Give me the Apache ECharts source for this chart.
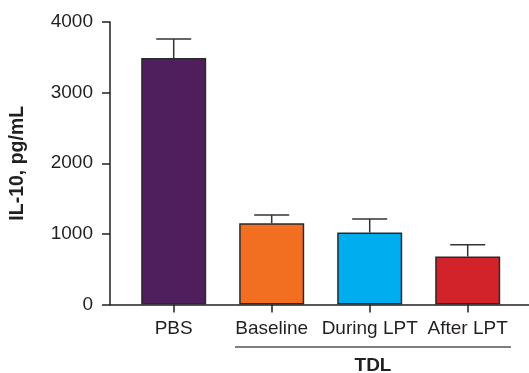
<!DOCTYPE html>
<html>
<head>
<meta charset="utf-8">
<script src="https://cdn.jsdelivr.net/npm/echarts@6/dist/echarts.min.js"></script>
<style>
  html, body { margin: 0; padding: 0; background: #fff; }
  #chart { width: 529px; height: 373px; }
</style>
</head>
<body>
<div id="chart"></div>
<script>
  // data
  const categories = ['PBS', 'Baseline', 'During LPT', 'After LPT']
  const means = [3490, 1150, 1020, 680]
  const errTops = [3760, 1268, 1210, 845]
  const barColors = ['#4e1f5c', '#f26f22', '#00aeef', '#d2232a']
  const yTicks = [0, 1000, 2000, 3000, 4000]

  const fontFam = 'Liberation Sans, Arial, sans-serif'
  const ink = '#231f20'

  const chart = echarts.init(document.getElementById('chart'))

  const errData = categories.map((c, i) => [i, means[i], errTops[i]])

  const option = {
    animation: false,
    grid: [
      // grid for the axis frame (y axis + full-width x line)
      { left: 108, right: 0, top: 22, height: 282.5 },
      // grid for the bars
      { left: 124.7, width: 392, top: 22, height: 282.5 },
    ],
    xAxis: [
      {
        type: 'value',
        gridIndex: 0,
        min: 0,
        max: 1,
        axisLine: { show: true, lineStyle: { color: ink, width: 1.5 } },
        axisTick: { show: false },
        axisLabel: { show: false },
        splitLine: { show: false },
      },
      {
        type: 'category',
        gridIndex: 1,
        data: categories,
        axisLine: { show: false },
        axisTick: { show: true, alignWithLabel: true, length: 8, lineStyle: { color: ink, width: 1.5 } },
        axisLabel: { color: ink, fontSize: 19, fontFamily: fontFam, margin: 15, interval: 0 },
      },
    ],
    yAxis: [
      {
        type: 'value',
        gridIndex: 0,
        min: yTicks[0],
        max: yTicks[yTicks.length - 1],
        interval: 1000,
        name: 'IL-10, pg/mL',
        nameLocation: 'middle',
        nameGap: 82,
        nameTextStyle: { color: ink, fontSize: 19.5, fontWeight: 'bold', fontFamily: fontFam },
        axisLine: { show: true, lineStyle: { color: ink, width: 1.5 } },
        axisTick: { show: true, length: 8, lineStyle: { color: ink, width: 1.5 } },
        axisLabel: {
          color: ink,
          fontSize: 19,
          fontFamily: fontFam,
          margin: 17,
          formatter: function (v) { return String(v) },
        },
        splitLine: { show: false },
      },
      {
        type: 'value',
        gridIndex: 1,
        min: yTicks[0],
        max: yTicks[yTicks.length - 1],
        show: false,
      },
    ],
    series: [
      {
        type: 'bar',
        xAxisIndex: 1,
        yAxisIndex: 1,
        barWidth: 65,
        data: means.map((v, i) => ({
          value: v,
          itemStyle: { color: barColors[i], borderColor: '#2a2a2a', borderWidth: 1.5 },
        })),
        z: 2,
      },
      {
        type: 'custom',
        xAxisIndex: 1,
        yAxisIndex: 1,
        data: errData,
        z: 3,
        renderItem: function (params, api) {
          const base = api.coord([api.value(0), api.value(1)])
          const top = api.coord([api.value(0), api.value(2)])
          const half = 17.5
          const style = { stroke: '#333', lineWidth: 1.5 }
          return {
            type: 'group',
            children: [
              { type: 'line', shape: { x1: base[0], y1: base[1], x2: top[0], y2: top[1] }, style: style },
              { type: 'line', shape: { x1: top[0] - half, y1: top[1], x2: top[0] + half, y2: top[1] }, style: style },
            ],
          }
        },
      },
    ],
    graphic: [
      {
        type: 'line',
        shape: { x1: 235, y1: 347, x2: 511, y2: 347 },
        style: { stroke: '#555', lineWidth: 1.5 },
      },
      {
        type: 'text',
        x: 373,
        y: 366,
        style: {
          text: 'TDL',
          fill: ink,
          font: 'bold 19px ' + fontFam,
          align: 'center',
          verticalAlign: 'middle',
        },
      },
    ],
  }

  chart.setOption(option)
</script>
</body>
</html>
